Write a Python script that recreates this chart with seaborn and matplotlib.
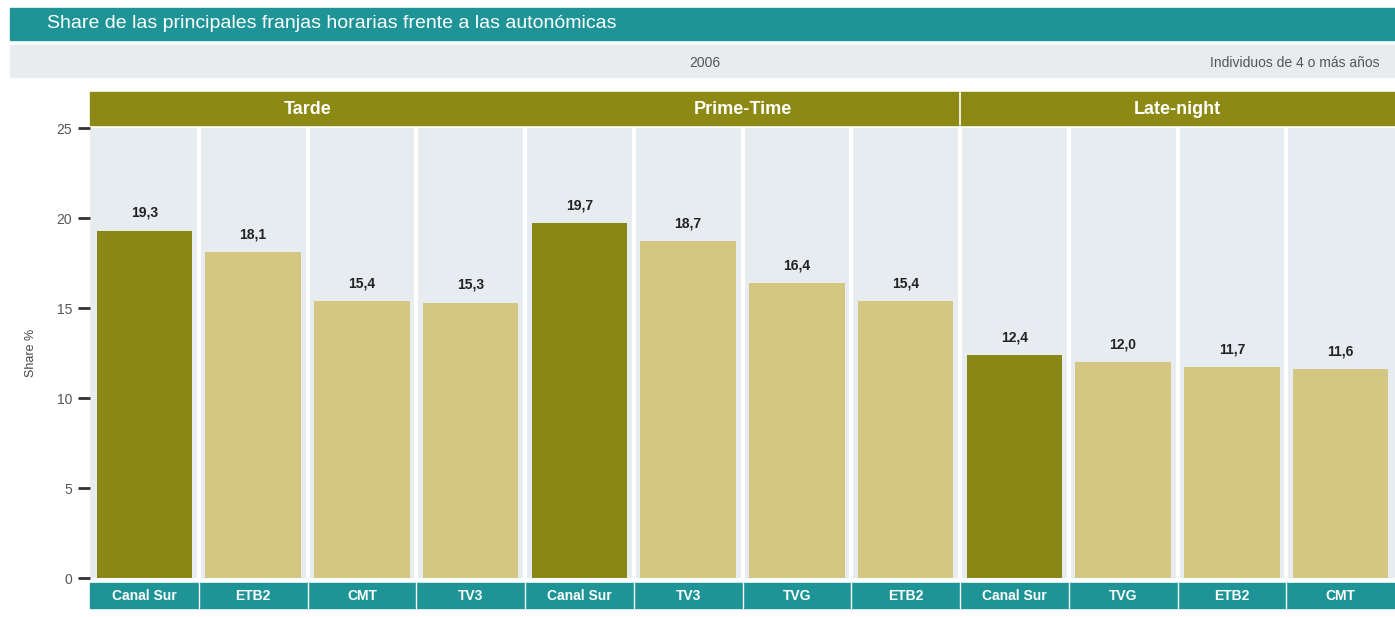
import pandas as pd
import seaborn as sns
import matplotlib.pyplot as plt
from matplotlib.patches import Rectangle

# data
groups = ['Tarde', 'Prime-Time', 'Late-night']
channels = [
    ['Canal Sur', 'ETB2', 'CMT', 'TV3'],
    ['Canal Sur', 'TV3', 'TVG', 'ETB2'],
    ['Canal Sur', 'TVG', 'ETB2', 'CMT'],
]
shares = [
    [19.3, 18.1, 15.4, 15.3],
    [19.7, 18.7, 16.4, 15.4],
    [12.4, 12.0, 11.7, 11.6],
]

rows = []
for g, chs, vals in zip(groups, channels, shares):
    for c, v in zip(chs, vals):
        rows.append({'group': g, 'channel': c, 'key': g + '|' + c, 'share': v})
df = pd.DataFrame(rows)

DARK = '#8a8717'
LIGHT = '#d4c782'
TEAL = '#1e9497'
OLIVE = '#8c8915'
BG = '#e6ecef'

colors = [DARK if c == 'Canal Sur' else LIGHT for c in df['channel']]

sns.set_style('white')
plt.rcParams['font.family'] = ['Liberation Sans', 'DejaVu Sans']

W, H = 1395, 617
fig = plt.figure(figsize=(W / 100, H / 100), dpi=100)


def band(x0, y0, x1, y1, color):
    fig.patches.append(Rectangle((x0 / W, 1 - y1 / H), (x1 - x0) / W, (y1 - y0) / H,
                                 transform=fig.transFigure, color=color, zorder=-1))


# title and subtitle bands
band(10, 8, W, 40, TEAL)
fig.text(47 / W, 1 - 24 / H, 'Share de las principales franjas horarias frente a las autonómicas',
         color='white', fontsize=14, va='center', ha='left')
band(10, 45, W, 77, '#e8ecee')
fig.text(705 / W, 1 - 63 / H, '2006', color='#555555', fontsize=10, va='center', ha='center')
fig.text(1380 / W, 1 - 63 / H, 'Individuos de 4 o más años', color='#555555', fontsize=10,
         va='center', ha='right')

ax = fig.add_axes([90 / W, 1 - 578 / H, 1 - 90 / W, (578 - 128) / H])
ax.set_zorder(2)
ax.set_facecolor(BG)
sns.barplot(data=df, x='key', y='share', hue='key', palette=colors, legend=False,
            width=0.88, saturation=1, linewidth=0, ax=ax, zorder=3)

ax.set_xlim(-0.5, len(df) - 0.5)
ax.set_ylim(0, 25)
for i in range(1, len(df)):
    ax.axvline(i - 0.5, color='white', lw=3, zorder=1)

for i, v in enumerate(df['share']):
    ax.text(i, v + 0.6, f'{v:.1f}'.replace('.', ','), ha='center', va='bottom',
            fontsize=10, fontweight='bold', color='#222222', zorder=4)

sns.despine(ax=ax, left=True, bottom=True, top=True, right=True)
ax.set_yticks([0, 5, 10, 15, 20, 25])
ax.tick_params(axis='y', length=9, width=2, color='#333333', labelcolor='#555555',
               labelsize=10, pad=4, left=True)
ax.set_xticks([])
ax.set_xlabel('')
ax.set_ylabel('Share %', fontsize=9, color='#444444', labelpad=14)

# group header band
band(90, 92, W, 125, OLIVE)
n = len(df)
for gi, g in enumerate(groups):
    xc = gi * 4 + 1.5
    ax.text(xc, 1.04, g, transform=ax.get_xaxis_transform(), ha='center', va='center',
            color='white', fontsize=13, fontweight='semibold', clip_on=False)
ax.plot([7.5, 7.5], [1.007, 1.08], transform=ax.get_xaxis_transform(),
        color='white', lw=1.2, clip_on=False)

# channel label band at the bottom
band(90, 583, W, 608, TEAL)
for i, c in enumerate(df['channel']):
    ax.text(i, -0.041, c, transform=ax.get_xaxis_transform(), ha='center', va='center',
            color='white', fontsize=10, fontweight='bold', clip_on=False)
for i in range(1, n):
    ax.plot([i - 0.5, i - 0.5], [-0.012, -0.066], transform=ax.get_xaxis_transform(),
            color='white', lw=1, clip_on=False)

fig.savefig('out.png', dpi=100)
